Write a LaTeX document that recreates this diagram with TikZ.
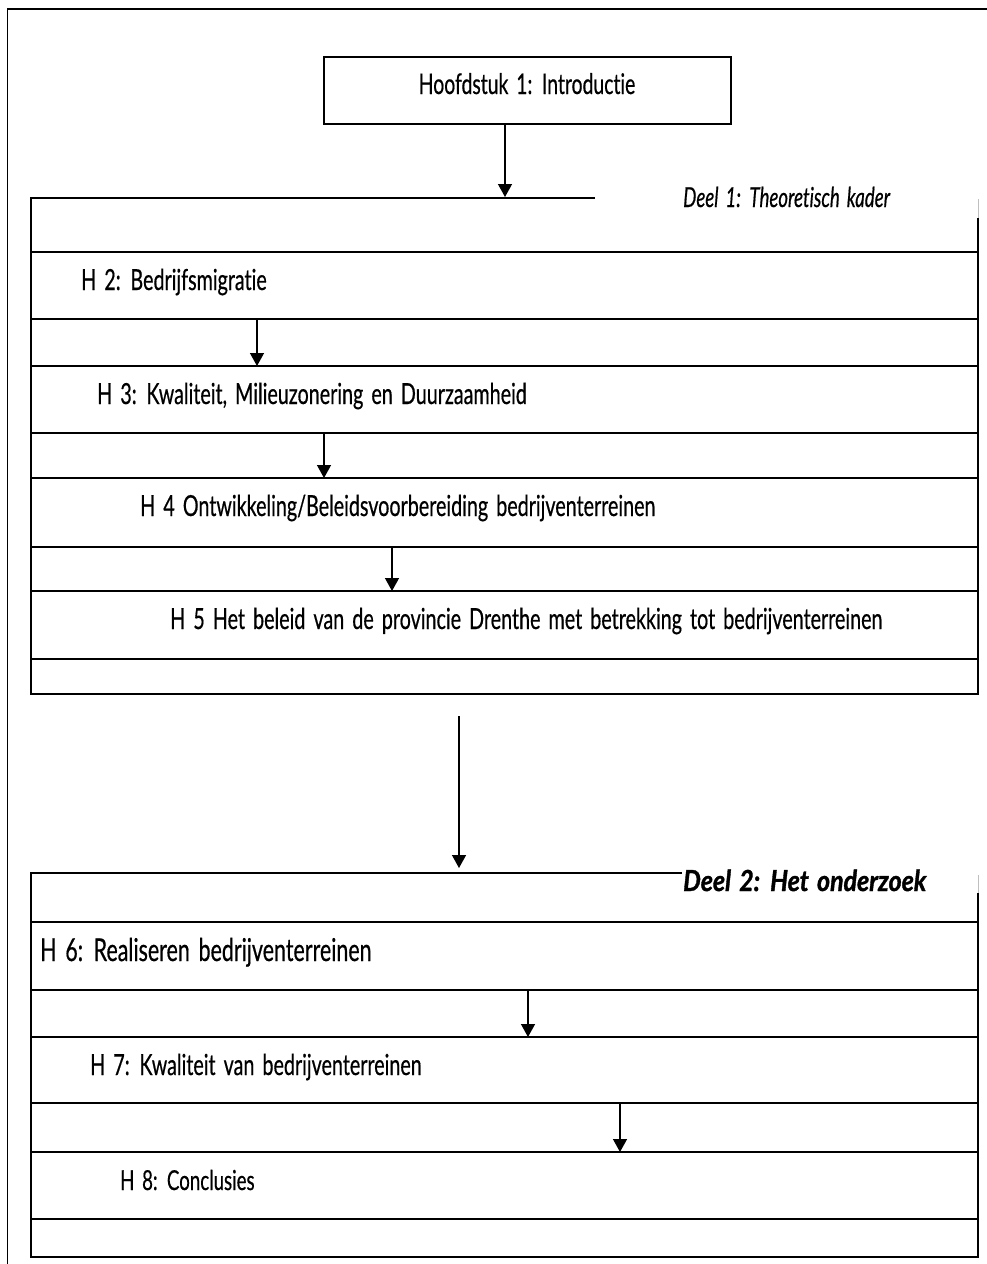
\documentclass[tikz,border=0pt]{standalone}
\usepackage{fontspec}
\setmainfont{Lato}[FakeStretch=0.68,WordSpace=1.6,Ligatures=NoCommon,FakeBold=0.5]
\newfontfamily\widelato{Lato}[FakeStretch=0.86,WordSpace=1.5,Ligatures=NoCommon,FakeBold=1.2]
\usetikzlibrary{arrows.meta}
\begin{document}
\begin{tikzpicture}[x=1pt,y=-1pt,
  frame/.style={line width=1.7pt,black},
  rule/.style={line width=1.5pt,black},
  faint/.style={line width=1pt,black!25},
  flow/.style={line width=1.4pt,-{Triangle[width=14pt,length=13pt]}},
  chap/.style={anchor=base west,inner sep=0pt,font=\fontsize{29}{34}\selectfont},
  part/.style={anchor=base west,inner sep=0pt,font=\fontsize{27.5}{32}\selectfont\itshape},
  partb/.style={anchor=base west,inner sep=0pt,font=\widelato\fontsize{29}{33}\selectfont\bfseries\itshape}]
\useasboundingbox (0,0) rectangle (987,1264);

% page frame, running off the right and bottom edges
\begin{scope}
  \clip (0,0) rectangle (987,1264);
  \draw[frame] (7.5,9) rectangle (1010,1290);
\end{scope}

% introduction box
\node[draw,line width=1.7pt,minimum width=407pt,minimum height=67pt,inner sep=0pt,anchor=north west]
  (intro) at (323,56) {};
\node[anchor=base,inner sep=0pt,font=\fontsize{28.5}{34}\selectfont] (introtxt) at (527,94) {Hoofdstuk 1: Introductie};

% part 1 frame
\draw[frame] (595,198) -- (31,198) -- (31,694) -- (978,694) -- (978,218);
\draw[faint] (978,199) -- (978,218);
\foreach \y in {252,319,366,433,478,547,591,659}
  \draw[rule] (31,\y) -- (978,\y);
\node[part] (deel1) at (683,207) {Deel 1: Theoretisch kader};

\node[chap] (h2) at (81,290) {H 2: Bedrijfsmigratie};
\node[chap] (h3) at (97,404) {H 3: Kwaliteit, Milieuzonering en Duurzaamheid};
\node[chap] (h4) at (140,516) {H 4 Ontwikkeling/Beleidsvoorbereiding bedrijventerreinen};
\node[chap] (h5) at (170,629) {H 5 Het beleid van de provincie Drenthe met betrekking tot bedrijventerreinen};

% part 2 frame
\draw[frame] (682,873) -- (31,873) -- (31,1257) -- (978,1257) -- (978,893);
\draw[faint] (978,875) -- (978,893);
\foreach \y in {922,990,1037,1103,1152,1219}
  \draw[rule] (31,\y) -- (978,\y);
\node[partb] (deel2) at (683,891) {Deel 2: Het onderzoek};

\node[chap,font=\fontsize{31.5}{36}\selectfont] (h6) at (40,961) {H 6: Realiseren bedrijventerreinen};
\node[chap] (h7) at (90,1075) {H 7: Kwaliteit van bedrijventerreinen};
\node[chap,font=\fontsize{27.5}{32}\selectfont] (h8) at (120,1190) {H 8: Conclusies};

% connector end points
\coordinate (a0s) at (505,123);  \coordinate (a0e) at (505,197);
\coordinate (a1s) at (257,319);  \coordinate (a1e) at (257,366);
\coordinate (a2s) at (324,433);  \coordinate (a2e) at (324,478);
\coordinate (a3s) at (392,547);  \coordinate (a3e) at (392,591);
\coordinate (a4s) at (459,716);  \coordinate (a4e) at (459,868);
\coordinate (a5s) at (528,990);  \coordinate (a5e) at (528,1037);
\coordinate (a6s) at (620,1103); \coordinate (a6e) at (620,1152);

\draw[flow] (a0s) -- (a0e);
\draw[flow] (a1s) -- (a1e);
\draw[flow] (a2s) -- (a2e);
\draw[flow] (a3s) -- (a3e);
\draw[flow] (a4s) -- (a4e);
\draw[flow] (a5s) -- (a5e);
\draw[flow] (a6s) -- (a6e);
\end{tikzpicture}
\end{document}
